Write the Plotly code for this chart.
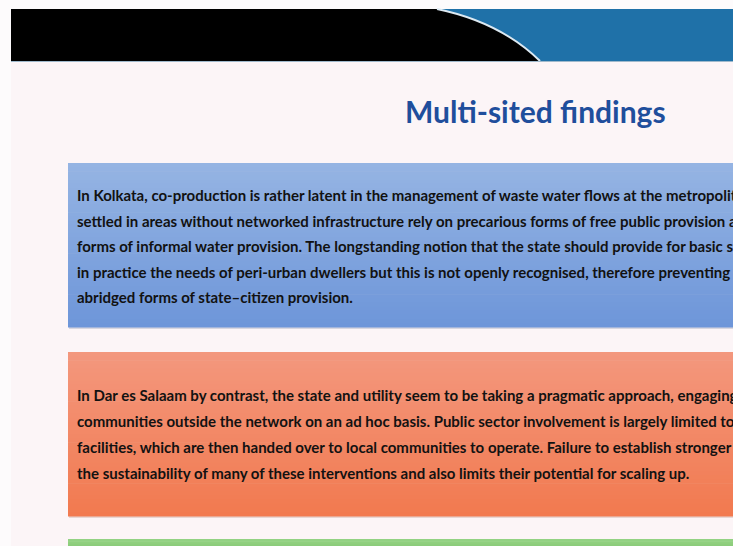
import plotly.graph_objects as go

W, H = 733, 546

title_text = "Multi-sited findings"

kolkata_lines = [
    "In Kolkata, co-production is rather latent in the management of waste water flows at the metropolitan",
    "settled in areas without networked infrastructure rely on precarious forms of free public provision and",
    "forms of informal water provision. The longstanding notion that the state should provide for basic services",
    "in practice the needs of peri-urban dwellers but this is not openly recognised, therefore preventing",
    "abridged forms of state\u2013citizen provision.",
]

dar_lines = [
    "In Dar es Salaam by contrast, the state and utility seem to be taking a pragmatic approach, engaging with",
    "communities outside the network on an ad hoc basis. Public sector involvement is largely limited to",
    "facilities, which are then handed over to local communities to operate. Failure to establish stronger ties",
    "the sustainability of many of these interventions and also limits their potential for scaling up.",
]

FONT = "Lato, Carlito, Liberation Sans Narrow, DejaVu Sans Condensed, sans-serif"

fig = go.Figure()
shapes = []
annotations = []


def hex_to_rgb(h):
    h = h.lstrip("#")
    return tuple(int(h[i:i + 2], 16) for i in (0, 2, 4))


def gradient_rect(x0, y0, x1, y1, c_top, c_bot, n=40):
    a, b = hex_to_rgb(c_top), hex_to_rgb(c_bot)
    step = (y1 - y0) / n
    for i in range(n):
        t = i / max(n - 1, 1)
        c = tuple(round(a[k] + (b[k] - a[k]) * t) for k in range(3))
        shapes.append(dict(type="rect", xref="x", yref="y",
                           x0=x0, x1=x1, y0=y0 + i * step, y1=y0 + (i + 1) * step + 0.6,
                           fillcolor="rgb(%d,%d,%d)" % c, line=dict(width=0), layer="below"))


# slide background
shapes.append(dict(type="rect", x0=0, x1=W, y0=0, y1=H, fillcolor="#fdfbfc", line=dict(width=0), layer="below"))
shapes.append(dict(type="rect", x0=11, x1=W, y0=9, y1=H, fillcolor="#fcf5f7", line=dict(width=0), layer="below"))

# header band: black + blue with curved edge
shapes.append(dict(type="path", path="M 11 9 L 437 9 Q 500 22 540 61 L 11 61 Z",
                   fillcolor="#000000", line=dict(width=0), layer="below"))
shapes.append(dict(type="path", path="M 437 9 L 733 9 L 733 61 L 540 61 Q 500 22 437 9 Z",
                   fillcolor="#1f71a8", line=dict(width=0), layer="below"))
shapes.append(dict(type="path", path="M 437 9 Q 500 22 540 61",
                   line=dict(color="#dce9f2", width=2), layer="below"))
shapes.append(dict(type="line", x0=11, x1=W, y0=61.5, y1=61.5, line=dict(color="#9fb9cc", width=1), layer="below"))

# content boxes
shapes.append(dict(type="rect", x0=69, x1=W + 5, y0=164, y1=329, fillcolor="#d8d6df", line=dict(width=0), layer="below"))
gradient_rect(68, 163, W + 5, 327, "#95b4e3", "#6e96d9")
shapes.append(dict(type="rect", x0=69, x1=W + 5, y0=353, y1=518, fillcolor="#e7d6d4", line=dict(width=0), layer="below"))
gradient_rect(68, 352, W + 5, 516, "#f3977d", "#f27a50")
gradient_rect(68, 539, W + 5, H + 2, "#93d283", "#8acb78", n=4)

# title
annotations.append(dict(x=535, y=111, xref="x", yref="y", text="<b>%s</b>" % title_text,
                        showarrow=False, xanchor="center", yanchor="middle",
                        font=dict(family=FONT, size=30, color="#1f4e9c")))

for i, line in enumerate(kolkata_lines):
    annotations.append(dict(x=75, y=195 + i * 25.5, xref="x", yref="y", text="<b>%s</b>" % line,
                            showarrow=False, xanchor="left", yanchor="middle",
                            font=dict(family=FONT, size=15, color="#121212")))

for i, line in enumerate(dar_lines):
    annotations.append(dict(x=75, y=395 + i * 26, xref="x", yref="y", text="<b>%s</b>" % line,
                            showarrow=False, xanchor="left", yanchor="middle",
                            font=dict(family=FONT, size=15, color="#121212")))

fig.update_layout(
    width=W, height=H,
    margin=dict(l=0, r=0, t=0, b=0),
    paper_bgcolor="#fdfbfc", plot_bgcolor="rgba(0,0,0,0)",
    xaxis=dict(range=[0, W], visible=False, fixedrange=True),
    yaxis=dict(range=[H, 0], visible=False, fixedrange=True),
    shapes=shapes, annotations=annotations, showlegend=False,
)

fig.write_html("out.html", config=dict(displayModeBar=False),
               post_script="document.body.style.margin='0';document.body.style.overflow='hidden';")
